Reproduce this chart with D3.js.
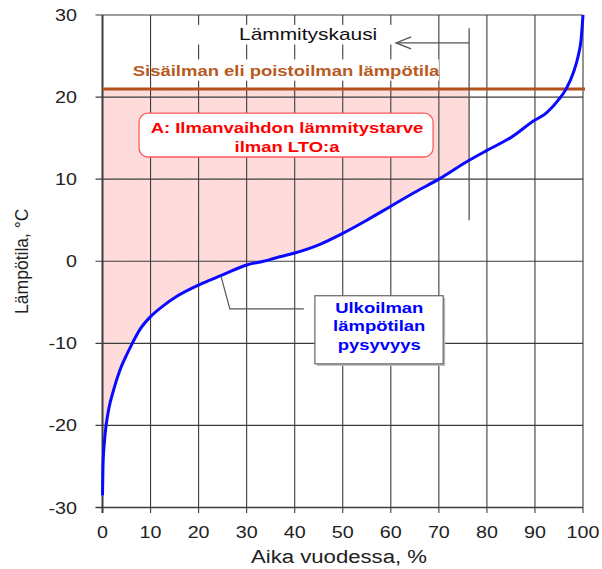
<!DOCTYPE html>
<html>
<head>
<meta charset="utf-8">
<script src="https://cdn.jsdelivr.net/npm/d3@7.9.0/dist/d3.min.js"></script>
<style>
  body { margin: 0; background: #fff; }
  svg text { font-family: "Liberation Sans", Arial, sans-serif; }
</style>
</head>
<body>
<div id="chart"></div>
<script>
// duration curve of outdoor temperature: share of year (%) vs temperature (°C)
const timeShare = [0, 0.1, 0.4, 0.75, 1.3, 2.3, 3.6, 4.7, 6.2, 7.8, 10, 12.7, 15.4, 20, 25, 30, 33.5, 36,
  40, 45, 50, 55, 60, 65, 70, 76.3, 80, 84.8, 90, 92, 94.8, 96.5, 98, 99, 99.6, 100];
const outdoorTemp = [-28.5, -25, -22, -20, -18, -15.7, -13.3, -11.8, -10, -8.3, -6.75, -5.4, -4.3, -2.9, -1.67, -0.45, 0, 0.4,
  1.0, 2.0, 3.4, 5.0, 6.7, 8.4, 10, 12.3, 13.5, 15, 17.2, 17.9, 19.6, 21, 23, 25, 27, 30];

const xTickValues = [0, 10, 20, 30, 40, 50, 60, 70, 80, 90, 100];
const yTickValues = [-30, -20, -10, 0, 10, 20, 30];

const indoorTemp = 21;          // Sisäilman lämpötila
const heatingSeasonEnd = 76.3;  // Lämmityskausi ends here (% of year)

const xTitle = 'Aika vuodessa, %';
const yTitle = 'Lämpötila, °C';
const seasonLabel = 'Lämmityskausi';
const indoorLabel = 'Sisäilman eli poistoilman lämpötila';
const demandLabel = ['A: Ilmanvaihdon lämmitystarve', 'ilman LTO:a'];
const curveLabel = ['Ulkoilman', 'lämpötilan', 'pysyvyys'];

const width = 602;
const height = 569;
const SX = 1.23; // the original picture is a bit wider than tall

const x = d3.scaleLinear().domain([0, 100]).range([102.5, 583]);
const y = d3.scaleLinear().domain([-30, 30]).range([507.5, 15]);

const points = timeShare.map((t, i) => ({ t, v: outdoorTemp[i] }));

const svg = d3.select('#chart').append('svg')
  .attr('width', width)
  .attr('height', height);

function stretch(sel) {
  sel.each(function () {
    const w = this.getComputedTextLength();
    d3.select(this).attr('textLength', w * SX).attr('lengthAdjust', 'spacingAndGlyphs');
  });
}

// hatched pink fill
const defs = svg.append('defs');
const pat = defs.append('pattern')
  .attr('id', 'hatch')
  .attr('patternUnits', 'userSpaceOnUse')
  .attr('width', 3).attr('height', 3);
pat.append('rect').attr('width', 3).attr('height', 3).attr('fill', '#ffe0e0');
pat.append('path').attr('d', 'M-1,1 l2,-2 M0,3 l3,-3 M2,4 l2,-2')
  .attr('stroke', '#ffcaca').attr('stroke-width', 0.6);

const season = points.filter((d) => d.t <= heatingSeasonEnd);
svg.append('path')
  .datum(season)
  .attr('fill', 'url(#hatch)')
  .attr('d', d3.area()
    .x((d) => x(d.t))
    .y0(y(indoorTemp))
    .y1((d) => y(d.v))
    .curve(d3.curveMonotoneX));

// grid
const grid = svg.append('g').attr('stroke', '#3c3c3c').attr('stroke-width', 1.1);
grid.selectAll('line.v')
  .data(xTickValues)
  .join('line')
  .attr('class', 'v')
  .attr('x1', (d) => x(d)).attr('x2', (d) => x(d))
  .attr('y1', y(30)).attr('y2', y(-30) + 5.5)
  .attr('stroke-width', (d) => (d === 0 ? 2 : 1.1));
grid.selectAll('line.h')
  .data(yTickValues)
  .join('line')
  .attr('class', 'h')
  .attr('x1', x(0) - 7).attr('x2', x(100))
  .attr('y1', (d) => y(d)).attr('y2', (d) => y(d))
  .attr('stroke-width', (d) => (d === -30 ? 1.6 : 1.1));

// white bands behind the upper labels
svg.append('rect')
  .attr('x', x(18.2)).attr('y', y(28.8))
  .attr('width', x(60.3) - x(18.2)).attr('height', y(26.4) - y(28.8))
  .attr('fill', '#fff');
svg.append('rect')
  .attr('x', x(12)).attr('y', y(24.6))
  .attr('width', x(70) - x(12)).attr('height', y(22) - y(24.6))
  .attr('fill', '#fff');

// tick labels
svg.append('g')
  .selectAll('text')
  .data(xTickValues)
  .join('text')
  .attr('x', (d) => x(d))
  .attr('y', 538)
  .attr('text-anchor', 'middle')
  .attr('font-size', 16)
  .attr('fill', '#222')
  .text((d) => d)
  .call(stretch);

svg.append('g')
  .selectAll('text')
  .data(yTickValues)
  .join('text')
  .attr('x', 77)
  .attr('y', (d) => y(d) + 6)
  .attr('text-anchor', 'end')
  .attr('font-size', 16)
  .attr('fill', '#222')
  .text((d) => d)
  .call(stretch);

svg.append('text')
  .attr('x', 339).attr('y', 563)
  .attr('text-anchor', 'middle')
  .attr('font-size', 18)
  .attr('fill', '#222')
  .text(xTitle)
  .call(stretch);

svg.append('text')
  .attr('transform', `translate(28, ${y(0)}) rotate(-90)`)
  .attr('text-anchor', 'middle')
  .attr('font-size', 17.5)
  .attr('fill', '#222')
  .text(yTitle);

// indoor temperature line
svg.append('line')
  .attr('x1', x(0)).attr('x2', x(100) + 2)
  .attr('y1', y(indoorTemp)).attr('y2', y(indoorTemp))
  .attr('stroke', '#b4501c').attr('stroke-width', 3);

svg.append('text')
  .attr('x', x(38.2)).attr('y', y(22.6))
  .attr('text-anchor', 'middle')
  .attr('font-size', 15).attr('font-weight', 'bold')
  .attr('fill', '#b85a1e')
  .text(indoorLabel)
  .call(stretch);

// heating season marker and arrow
const mark = svg.append('g').attr('stroke', '#555').attr('stroke-width', 1.3).attr('fill', 'none');
mark.append('line')
  .attr('x1', x(heatingSeasonEnd)).attr('x2', x(heatingSeasonEnd))
  .attr('y1', y(28.4)).attr('y2', y(5));
mark.append('line')
  .attr('x1', x(heatingSeasonEnd)).attr('x2', x(61.1))
  .attr('y1', y(26.6)).attr('y2', y(26.6));
mark.append('path')
  .attr('d', `M${x(61.1) + 15},${y(26.6) - 6} L${x(61.1)},${y(26.6)} L${x(61.1) + 15},${y(26.6) + 6}`);

svg.append('text')
  .attr('x', x(42.8)).attr('y', y(26.9))
  .attr('text-anchor', 'middle')
  .attr('font-size', 17)
  .attr('fill', '#111')
  .text(seasonLabel)
  .call(stretch);

// heating demand box
svg.append('rect')
  .attr('x', x(7.6)).attr('y', y(18.05))
  .attr('width', x(68.8) - x(7.6)).attr('height', y(12.7) - y(18.05))
  .attr('rx', 9)
  .attr('fill', '#fff').attr('stroke', '#ff5a5a').attr('stroke-width', 1.3);
svg.append('g')
  .selectAll('text')
  .data(demandLabel)
  .join('text')
  .attr('x', x(38.4))
  .attr('y', (d, i) => y(15.66) + i * 19)
  .attr('text-anchor', 'middle')
  .attr('font-size', 15).attr('font-weight', 'bold')
  .attr('fill', '#ff0000')
  .text((d) => d)
  .call(stretch);

// outdoor temperature duration curve
svg.append('path')
  .datum(points)
  .attr('fill', 'none')
  .attr('stroke', '#0a0aff')
  .attr('stroke-width', 3)
  .attr('stroke-linejoin', 'round')
  .attr('d', d3.line()
    .x((d) => x(d.t))
    .y((d) => y(d.v))
    .curve(d3.curveMonotoneX));

// leader to curve label
svg.append('path')
  .attr('d', `M${x(24.7)},${y(-1.9)} L${x(26.5)},${y(-5.8)} L${x(41.9)},${y(-5.8)}`)
  .attr('fill', 'none').attr('stroke', '#555').attr('stroke-width', 1.2);

svg.append('rect')
  .attr('x', x(44.2) + 2).attr('y', y(-4.2) + 2)
  .attr('width', x(70.9) - x(44.2)).attr('height', y(-12.5) - y(-4.2))
  .attr('fill', '#bbb');
svg.append('rect')
  .attr('x', x(44.2)).attr('y', y(-4.2))
  .attr('width', x(70.9) - x(44.2)).attr('height', y(-12.5) - y(-4.2))
  .attr('fill', '#fff').attr('stroke', '#666').attr('stroke-width', 1.2);
svg.append('g')
  .selectAll('text')
  .data(curveLabel)
  .join('text')
  .attr('x', x(57.6))
  .attr('y', (d, i) => y(-6.3) + i * 18.5)
  .attr('text-anchor', 'middle')
  .attr('font-size', 15).attr('font-weight', 'bold')
  .attr('fill', '#0000ff')
  .text((d) => d)
  .call(stretch);
</script>
</body>
</html>
